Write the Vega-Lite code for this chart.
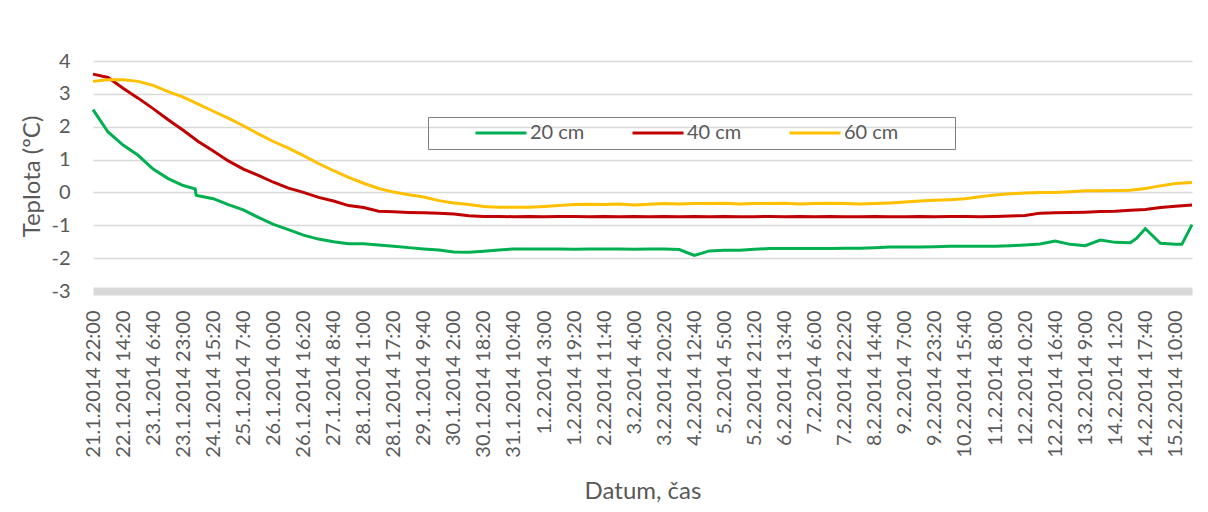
{
  "$schema": "https://vega.github.io/schema/vega-lite/v6.json",
  "width": 1099,
  "height": 230,
  "autosize": {"type": "none"},
  "padding": {"left": 93, "top": 61, "right": 16, "bottom": 221},
  "background": "#ffffff",
  "config": {
    "view": {"stroke": null},
    "font": "Lato"
  },
  "data": {
    "values": [
      {"t": "2014-01-21T22:00", "20 cm": 2.52, "40 cm": 3.60, "60 cm": 3.38},
      {"t": "2014-01-22T06:10", "20 cm": 1.84, "40 cm": 3.50, "60 cm": 3.43},
      {"t": "2014-01-22T14:20", "20 cm": 1.44, "40 cm": 3.17, "60 cm": 3.43},
      {"t": "2014-01-22T22:30", "20 cm": 1.13, "40 cm": 2.87, "60 cm": 3.38},
      {"t": "2014-01-23T06:40", "20 cm": 0.71, "40 cm": 2.55, "60 cm": 3.26},
      {"t": "2014-01-23T14:50", "20 cm": 0.42, "40 cm": 2.21, "60 cm": 3.07},
      {"t": "2014-01-23T23:00", "20 cm": 0.21, "40 cm": 1.89, "60 cm": 2.90},
      {"t": "2014-01-24T05:30", "20 cm": 0.11},
      {"t": "2014-01-24T06:00", "20 cm": -0.08},
      {"t": "2014-01-24T07:10", "20 cm": -0.10, "40 cm": 1.55, "60 cm": 2.69},
      {"t": "2014-01-24T15:20", "20 cm": -0.19, "40 cm": 1.26, "60 cm": 2.47},
      {"t": "2014-01-24T23:30", "20 cm": -0.37, "40 cm": 0.96, "60 cm": 2.26},
      {"t": "2014-01-25T07:40", "20 cm": -0.53, "40 cm": 0.71, "60 cm": 2.03},
      {"t": "2014-01-25T15:50", "20 cm": -0.76, "40 cm": 0.52, "60 cm": 1.78},
      {"t": "2014-01-26T00:00", "20 cm": -0.97, "40 cm": 0.31, "60 cm": 1.55},
      {"t": "2014-01-26T08:10", "20 cm": -1.13, "40 cm": 0.13, "60 cm": 1.35},
      {"t": "2014-01-26T16:20", "20 cm": -1.30, "40 cm": 0.00, "60 cm": 1.12},
      {"t": "2014-01-27T00:30", "20 cm": -1.42, "40 cm": -0.15, "60 cm": 0.88},
      {"t": "2014-01-27T08:40", "20 cm": -1.50, "40 cm": -0.26, "60 cm": 0.66},
      {"t": "2014-01-27T16:50", "20 cm": -1.56, "40 cm": -0.40, "60 cm": 0.46},
      {"t": "2014-01-28T01:00", "20 cm": -1.56, "40 cm": -0.46, "60 cm": 0.28},
      {"t": "2014-01-28T09:10", "20 cm": -1.60, "40 cm": -0.57, "60 cm": 0.12},
      {"t": "2014-01-28T17:20", "20 cm": -1.64, "40 cm": -0.59, "60 cm": 0.01},
      {"t": "2014-01-29T01:30", "20 cm": -1.68, "40 cm": -0.61, "60 cm": -0.07},
      {"t": "2014-01-29T09:40", "20 cm": -1.72, "40 cm": -0.62, "60 cm": -0.14},
      {"t": "2014-01-29T17:50", "20 cm": -1.75, "40 cm": -0.63, "60 cm": -0.25},
      {"t": "2014-01-30T02:00", "20 cm": -1.81, "40 cm": -0.66, "60 cm": -0.32},
      {"t": "2014-01-30T10:10", "20 cm": -1.82, "40 cm": -0.71, "60 cm": -0.37},
      {"t": "2014-01-30T18:20", "20 cm": -1.79, "40 cm": -0.73, "60 cm": -0.43},
      {"t": "2014-01-31T02:30", "20 cm": -1.75, "40 cm": -0.73, "60 cm": -0.45},
      {"t": "2014-01-31T10:40", "20 cm": -1.72, "40 cm": -0.74, "60 cm": -0.45},
      {"t": "2014-01-31T18:50", "20 cm": -1.72, "40 cm": -0.73, "60 cm": -0.45},
      {"t": "2014-02-01T03:00", "20 cm": -1.72, "40 cm": -0.74, "60 cm": -0.43},
      {"t": "2014-02-01T11:10", "20 cm": -1.72, "40 cm": -0.73, "60 cm": -0.40},
      {"t": "2014-02-01T19:20", "20 cm": -1.73, "40 cm": -0.73, "60 cm": -0.37},
      {"t": "2014-02-02T03:30", "20 cm": -1.72, "40 cm": -0.74, "60 cm": -0.36},
      {"t": "2014-02-02T11:40", "20 cm": -1.72, "40 cm": -0.73, "60 cm": -0.37},
      {"t": "2014-02-02T19:50", "20 cm": -1.72, "40 cm": -0.74, "60 cm": -0.35},
      {"t": "2014-02-03T04:00", "20 cm": -1.73, "40 cm": -0.73, "60 cm": -0.38},
      {"t": "2014-02-03T12:10", "20 cm": -1.72, "40 cm": -0.74, "60 cm": -0.36},
      {"t": "2014-02-03T20:20", "20 cm": -1.72, "40 cm": -0.73, "60 cm": -0.34},
      {"t": "2014-02-04T04:30", "20 cm": -1.74, "40 cm": -0.74, "60 cm": -0.35},
      {"t": "2014-02-04T12:40", "20 cm": -1.92, "40 cm": -0.73, "60 cm": -0.34},
      {"t": "2014-02-04T20:50", "20 cm": -1.78, "40 cm": -0.74, "60 cm": -0.34},
      {"t": "2014-02-05T05:00", "20 cm": -1.76, "40 cm": -0.73, "60 cm": -0.33},
      {"t": "2014-02-05T13:10", "20 cm": -1.76, "40 cm": -0.74, "60 cm": -0.35},
      {"t": "2014-02-05T21:20", "20 cm": -1.73, "40 cm": -0.74, "60 cm": -0.34},
      {"t": "2014-02-06T05:30", "20 cm": -1.71, "40 cm": -0.73, "60 cm": -0.34},
      {"t": "2014-02-06T13:40", "20 cm": -1.71, "40 cm": -0.74, "60 cm": -0.33},
      {"t": "2014-02-06T21:50", "20 cm": -1.71, "40 cm": -0.73, "60 cm": -0.35},
      {"t": "2014-02-07T06:00", "20 cm": -1.71, "40 cm": -0.74, "60 cm": -0.34},
      {"t": "2014-02-07T14:10", "20 cm": -1.71, "40 cm": -0.73, "60 cm": -0.33},
      {"t": "2014-02-07T22:20", "20 cm": -1.70, "40 cm": -0.74, "60 cm": -0.34},
      {"t": "2014-02-08T06:30", "20 cm": -1.70, "40 cm": -0.74, "60 cm": -0.35},
      {"t": "2014-02-08T14:40", "20 cm": -1.68, "40 cm": -0.73, "60 cm": -0.34},
      {"t": "2014-02-08T22:50", "20 cm": -1.66, "40 cm": -0.74, "60 cm": -0.32},
      {"t": "2014-02-09T07:00", "20 cm": -1.66, "40 cm": -0.74, "60 cm": -0.29},
      {"t": "2014-02-09T15:10", "20 cm": -1.66, "40 cm": -0.73, "60 cm": -0.26},
      {"t": "2014-02-09T23:20", "20 cm": -1.65, "40 cm": -0.74, "60 cm": -0.24},
      {"t": "2014-02-10T07:30", "20 cm": -1.64, "40 cm": -0.73, "60 cm": -0.22},
      {"t": "2014-02-10T15:40", "20 cm": -1.64, "40 cm": -0.73, "60 cm": -0.19},
      {"t": "2014-02-10T23:50", "20 cm": -1.64, "40 cm": -0.74, "60 cm": -0.13},
      {"t": "2014-02-11T08:00", "20 cm": -1.64, "40 cm": -0.73, "60 cm": -0.08},
      {"t": "2014-02-11T16:10", "20 cm": -1.62, "40 cm": -0.72, "60 cm": -0.04},
      {"t": "2014-02-12T00:20", "20 cm": -1.60, "40 cm": -0.70, "60 cm": -0.02},
      {"t": "2014-02-12T08:30", "20 cm": -1.57, "40 cm": -0.63, "60 cm": 0.00},
      {"t": "2014-02-12T16:40", "20 cm": -1.48, "40 cm": -0.62, "60 cm": 0.00},
      {"t": "2014-02-13T00:50", "20 cm": -1.58, "40 cm": -0.61, "60 cm": 0.02},
      {"t": "2014-02-13T09:00", "20 cm": -1.62, "40 cm": -0.60, "60 cm": 0.05},
      {"t": "2014-02-13T17:10", "20 cm": -1.45, "40 cm": -0.58, "60 cm": 0.05},
      {"t": "2014-02-14T01:20", "20 cm": -1.52, "40 cm": -0.57, "60 cm": 0.06},
      {"t": "2014-02-14T09:30", "20 cm": -1.53, "40 cm": -0.54, "60 cm": 0.07},
      {"t": "2014-02-14T13:00", "20 cm": -1.39},
      {"t": "2014-02-14T17:40", "20 cm": -1.10, "40 cm": -0.52, "60 cm": 0.12},
      {"t": "2014-02-14T23:50", "20 cm": -1.44},
      {"t": "2014-02-15T01:50", "20 cm": -1.55, "40 cm": -0.46, "60 cm": 0.20},
      {"t": "2014-02-15T10:00", "20 cm": -1.58, "40 cm": -0.42, "60 cm": 0.27},
      {"t": "2014-02-15T13:30", "20 cm": -1.58},
      {"t": "2014-02-15T19:00", "20 cm": -0.98, "40 cm": -0.38, "60 cm": 0.30}
    ]
  },
  "transform": [
    {"fold": ["20 cm", "40 cm", "60 cm"], "as": ["hloubka", "teplota"]},
    {"filter": "isValid(datum.teplota)"}
  ],
  "mark": {"type": "line", "strokeWidth": 3, "interpolate": "linear"},
  "encoding": {
    "x": {
      "field": "t",
      "type": "temporal",
      "scale": {
        "domain": [
          {"year": 2014, "month": 1, "date": 21, "hours": 22, "minutes": 0},
          {"year": 2014, "month": 2, "date": 15, "hours": 19, "minutes": 0}
        ],
        "nice": false
      },
      "axis": {
        "title": "Datum, čas",
        "format": "%-d.%-m.%Y %-H:%M",
        "values": [
          {"year": 2014, "month": 1, "date": 21, "hours": 22, "minutes": 0},
          {"year": 2014, "month": 1, "date": 22, "hours": 14, "minutes": 20},
          {"year": 2014, "month": 1, "date": 23, "hours": 6, "minutes": 40},
          {"year": 2014, "month": 1, "date": 23, "hours": 23, "minutes": 0},
          {"year": 2014, "month": 1, "date": 24, "hours": 15, "minutes": 20},
          {"year": 2014, "month": 1, "date": 25, "hours": 7, "minutes": 40},
          {"year": 2014, "month": 1, "date": 26, "hours": 0, "minutes": 0},
          {"year": 2014, "month": 1, "date": 26, "hours": 16, "minutes": 20},
          {"year": 2014, "month": 1, "date": 27, "hours": 8, "minutes": 40},
          {"year": 2014, "month": 1, "date": 28, "hours": 1, "minutes": 0},
          {"year": 2014, "month": 1, "date": 28, "hours": 17, "minutes": 20},
          {"year": 2014, "month": 1, "date": 29, "hours": 9, "minutes": 40},
          {"year": 2014, "month": 1, "date": 30, "hours": 2, "minutes": 0},
          {"year": 2014, "month": 1, "date": 30, "hours": 18, "minutes": 20},
          {"year": 2014, "month": 1, "date": 31, "hours": 10, "minutes": 40},
          {"year": 2014, "month": 2, "date": 1, "hours": 3, "minutes": 0},
          {"year": 2014, "month": 2, "date": 1, "hours": 19, "minutes": 20},
          {"year": 2014, "month": 2, "date": 2, "hours": 11, "minutes": 40},
          {"year": 2014, "month": 2, "date": 3, "hours": 4, "minutes": 0},
          {"year": 2014, "month": 2, "date": 3, "hours": 20, "minutes": 20},
          {"year": 2014, "month": 2, "date": 4, "hours": 12, "minutes": 40},
          {"year": 2014, "month": 2, "date": 5, "hours": 5, "minutes": 0},
          {"year": 2014, "month": 2, "date": 5, "hours": 21, "minutes": 20},
          {"year": 2014, "month": 2, "date": 6, "hours": 13, "minutes": 40},
          {"year": 2014, "month": 2, "date": 7, "hours": 6, "minutes": 0},
          {"year": 2014, "month": 2, "date": 7, "hours": 22, "minutes": 20},
          {"year": 2014, "month": 2, "date": 8, "hours": 14, "minutes": 40},
          {"year": 2014, "month": 2, "date": 9, "hours": 7, "minutes": 0},
          {"year": 2014, "month": 2, "date": 9, "hours": 23, "minutes": 20},
          {"year": 2014, "month": 2, "date": 10, "hours": 15, "minutes": 40},
          {"year": 2014, "month": 2, "date": 11, "hours": 8, "minutes": 0},
          {"year": 2014, "month": 2, "date": 12, "hours": 0, "minutes": 20},
          {"year": 2014, "month": 2, "date": 12, "hours": 16, "minutes": 40},
          {"year": 2014, "month": 2, "date": 13, "hours": 9, "minutes": 0},
          {"year": 2014, "month": 2, "date": 14, "hours": 1, "minutes": 20},
          {"year": 2014, "month": 2, "date": 14, "hours": 17, "minutes": 40},
          {"year": 2014, "month": 2, "date": 15, "hours": 10, "minutes": 0}
        ],
        "labelAngle": 270,
        "labelFont": "Lato",
        "labelFontSize": 20,
        "labelColor": "#595959",
        "labelPadding": 19,
        "labelOverlap": false,
        "labelFlush": false,
        "ticks": false,
        "grid": false,
        "domain": true,
        "domainColor": "#d9d9d9",
        "domainWidth": 8,
        "titleFont": "Lato",
        "titleFontSize": 24,
        "titleFontWeight": "normal",
        "titleColor": "#595959",
        "titlePadding": 22
      }
    },
    "y": {
      "field": "teplota",
      "type": "quantitative",
      "scale": {"domain": [-3, 4], "nice": false, "zero": false},
      "axis": {
        "title": "Teplota (ºC)",
        "values": [-3, -2, -1, 0, 1, 2, 3, 4],
        "labelExpr": "'' + datum.value",
        "labelFont": "Lato",
        "labelFontSize": 20,
        "labelColor": "#595959",
        "labelPadding": 23,
        "ticks": false,
        "domain": false,
        "grid": true,
        "gridColor": "#d9d9d9",
        "gridWidth": 1.3,
        "titleFont": "Lato",
        "titleFontSize": 24,
        "titleFontWeight": "normal",
        "titleColor": "#595959",
        "titlePadding": 6
      }
    },
    "color": {
      "field": "hloubka",
      "type": "nominal",
      "scale": {
        "domain": ["20 cm", "40 cm", "60 cm"],
        "range": ["#00b050", "#c00000", "#ffc000"]
      },
      "legend": {
        "title": "\u00a0",
        "titleOrient": "right",
        "titleFontSize": 20,
        "titlePadding": 52,
        "orient": "none",
        "legendX": 335,
        "legendY": 56,
        "direction": "horizontal",
        "symbolType": "stroke",
        "symbolStrokeWidth": 3,
        "symbolSize": 2601,
        "symbolOffset": 41,
        "clipHeight": 22,
        "labelFont": "Lato",
        "labelFontSize": 20,
        "labelColor": "#595959",
        "labelOffset": 2,
        "columnPadding": 5,
        "padding": 5,
        "strokeColor": "#7f7f7f"
      }
    }
  }
}
